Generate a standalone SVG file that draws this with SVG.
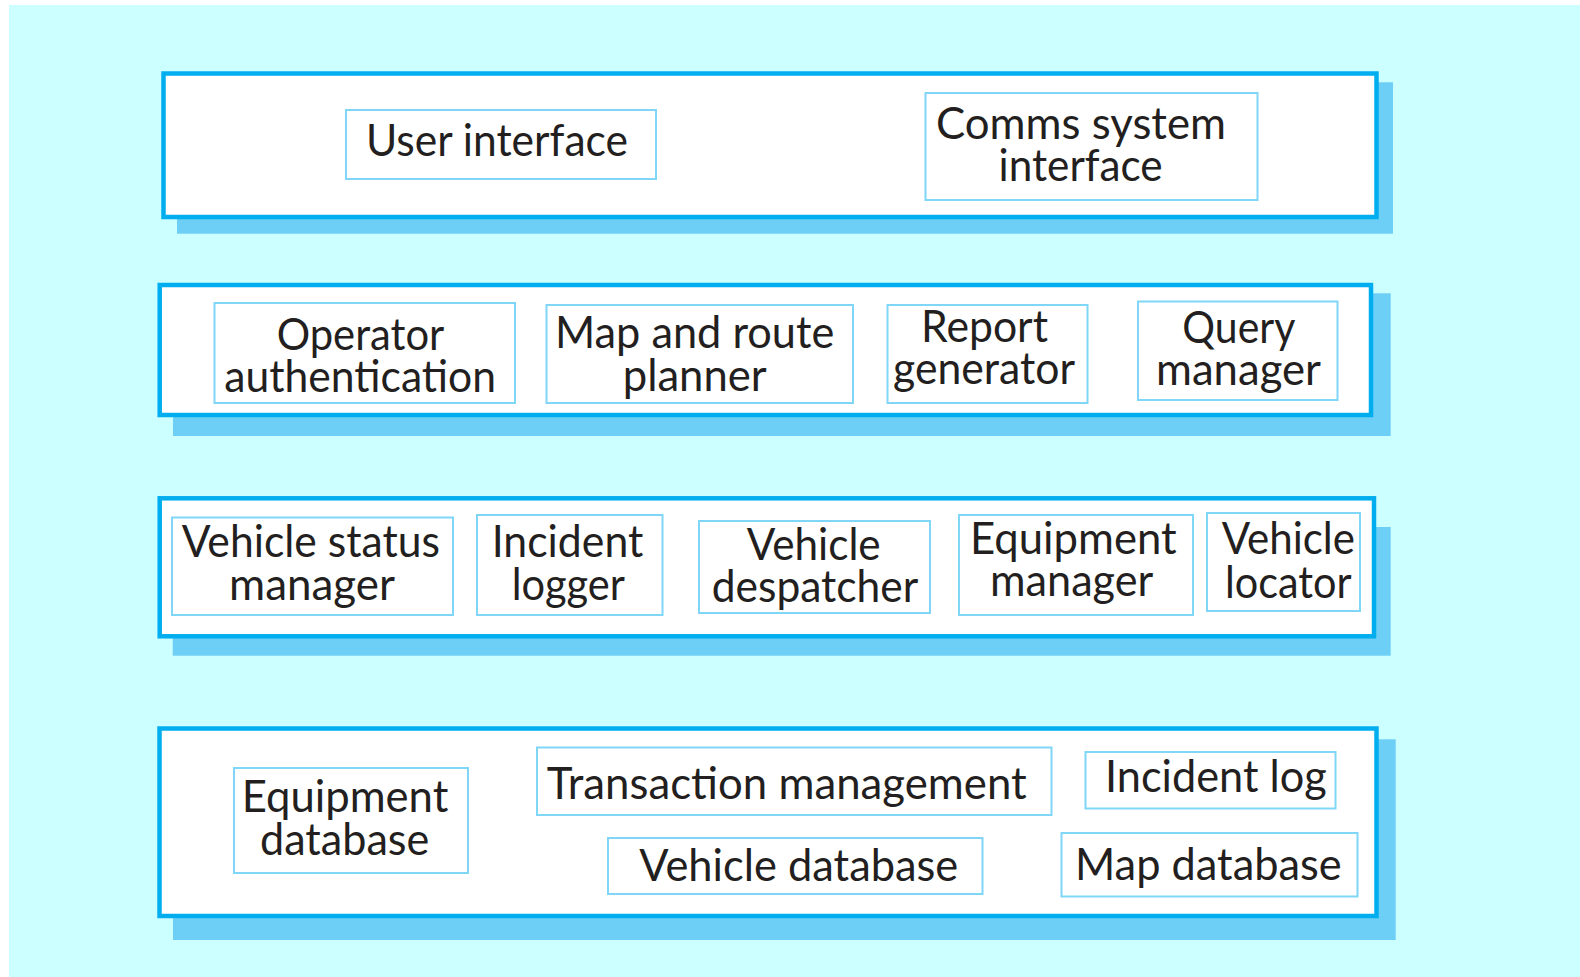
<svg xmlns="http://www.w3.org/2000/svg" width="1580" height="977" viewBox="0 0 1580 977">
<style>
.bg{fill:#CCFFFF}
.shadow{fill:#6DCFF6}
.layer{fill:#FFFFFF;stroke:#00AEEF;stroke-width:4.5}
.box{fill:#FFFFFF;stroke:#80D6F7;stroke-width:2}
text{font-family:Lato,"Open Sans","Liberation Sans",sans-serif;font-size:44px;fill:#231F20}
</style>
<rect class="bg" x="9" y="5" width="1571" height="972"/>

<g id="layer-interface">
<rect class="shadow" x="177" y="82.3" width="1216" height="151.4"/>
<rect class="layer" x="163.5" y="73.5" width="1213" height="143.5"/>
<g id="user-interface">
<rect class="box" x="346" y="110" width="310" height="69"/>
<text x="366" y="156" textLength="262" lengthAdjust="spacingAndGlyphs">User interface</text>
</g>
<g id="comms-system-interface">
<rect class="box" x="925.5" y="93" width="332" height="107"/>
<text x="936" y="139" textLength="290" lengthAdjust="spacingAndGlyphs">Comms system</text>
<text x="998.6" y="181" textLength="164" lengthAdjust="spacingAndGlyphs">interface</text>
</g>
</g>

<g id="layer-application">
<rect class="shadow" x="173" y="293.3" width="1217.7" height="142.7"/>
<rect class="layer" x="159.7" y="285" width="1211.3" height="130"/>
<g id="operator-authentication">
<rect class="box" x="214.5" y="303" width="300.5" height="100"/>
<text x="276.7" y="350" textLength="167.6" lengthAdjust="spacingAndGlyphs">Operator</text>
<text x="224.3" y="392" textLength="271.7" lengthAdjust="spacingAndGlyphs">authentication</text>
</g>
<g id="map-route-planner">
<rect class="box" x="546.5" y="305" width="306.5" height="98"/>
<text x="555" y="348" textLength="279.3" lengthAdjust="spacingAndGlyphs">Map and route</text>
<text x="622.7" y="390.5" textLength="144" lengthAdjust="spacingAndGlyphs">planner</text>
</g>
<g id="report-generator">
<rect class="box" x="887.5" y="305" width="200" height="98"/>
<text x="921" y="342" textLength="127" lengthAdjust="spacingAndGlyphs">Report</text>
<text x="893" y="384" textLength="182" lengthAdjust="spacingAndGlyphs">generator</text>
</g>
<g id="query-manager">
<rect class="box" x="1138" y="301.5" width="199.5" height="98.5"/>
<text x="1182.3" y="342.7" textLength="113" lengthAdjust="spacingAndGlyphs">Query</text>
<text x="1156" y="384.5" textLength="165" lengthAdjust="spacingAndGlyphs">manager</text>
</g>
</g>

<g id="layer-logic">
<rect class="shadow" x="172.7" y="527" width="1218" height="128.7"/>
<rect class="layer" x="159.7" y="498.3" width="1214.3" height="138"/>
<g id="vehicle-status-manager">
<rect class="box" x="172" y="517.5" width="281" height="97.5"/>
<text x="181.7" y="557" textLength="258.3" lengthAdjust="spacingAndGlyphs">Vehicle status</text>
<text x="229" y="600" textLength="166" lengthAdjust="spacingAndGlyphs">manager</text>
</g>
<g id="incident-logger">
<rect class="box" x="477" y="515" width="185.5" height="100"/>
<text x="491.7" y="557" textLength="151.6" lengthAdjust="spacingAndGlyphs">Incident</text>
<text x="511.7" y="600" textLength="113.3" lengthAdjust="spacingAndGlyphs">logger</text>
</g>
<g id="vehicle-despatcher">
<rect class="box" x="699" y="521" width="231" height="92"/>
<text x="746.7" y="560" textLength="134" lengthAdjust="spacingAndGlyphs">Vehicle</text>
<text x="711.7" y="602" textLength="206.6" lengthAdjust="spacingAndGlyphs">despatcher</text>
</g>
<g id="equipment-manager">
<rect class="box" x="959" y="515" width="234" height="100"/>
<text x="970" y="553.5" textLength="206.7" lengthAdjust="spacingAndGlyphs">Equipment</text>
<text x="990" y="596" textLength="163.3" lengthAdjust="spacingAndGlyphs">manager</text>
</g>
<g id="vehicle-locator">
<rect class="box" x="1207" y="513" width="153" height="98"/>
<text x="1221.7" y="554" textLength="133.3" lengthAdjust="spacingAndGlyphs">Vehicle</text>
<text x="1225" y="598.3" textLength="126.7" lengthAdjust="spacingAndGlyphs">locator</text>
</g>
</g>

<g id="layer-database">
<rect class="shadow" x="173" y="739.3" width="1222.7" height="200.7"/>
<rect class="layer" x="159.5" y="728.5" width="1217" height="187.5"/>
<g id="equipment-database">
<rect class="box" x="234" y="768" width="234" height="105"/>
<text x="241.7" y="812" textLength="206.6" lengthAdjust="spacingAndGlyphs">Equipment</text>
<text x="260" y="855" textLength="169.3" lengthAdjust="spacingAndGlyphs">database</text>
</g>
<g id="transaction-management">
<rect class="box" x="537" y="747.5" width="514.5" height="67.5"/>
<text x="546.7" y="799" textLength="480" lengthAdjust="spacingAndGlyphs">Transaction management</text>
</g>
<g id="vehicle-database">
<rect class="box" x="608" y="838" width="374.5" height="56"/>
<text x="639.3" y="881" textLength="319" lengthAdjust="spacingAndGlyphs">Vehicle database</text>
</g>
<g id="incident-log">
<rect class="box" x="1085.5" y="752" width="250" height="56.5"/>
<text x="1105" y="792" textLength="221.7" lengthAdjust="spacingAndGlyphs">Incident log</text>
</g>
<g id="map-database">
<rect class="box" x="1061.5" y="833" width="296" height="63.5"/>
<text x="1075" y="880" textLength="266.7" lengthAdjust="spacingAndGlyphs">Map database</text>
</g>
</g>
</svg>
